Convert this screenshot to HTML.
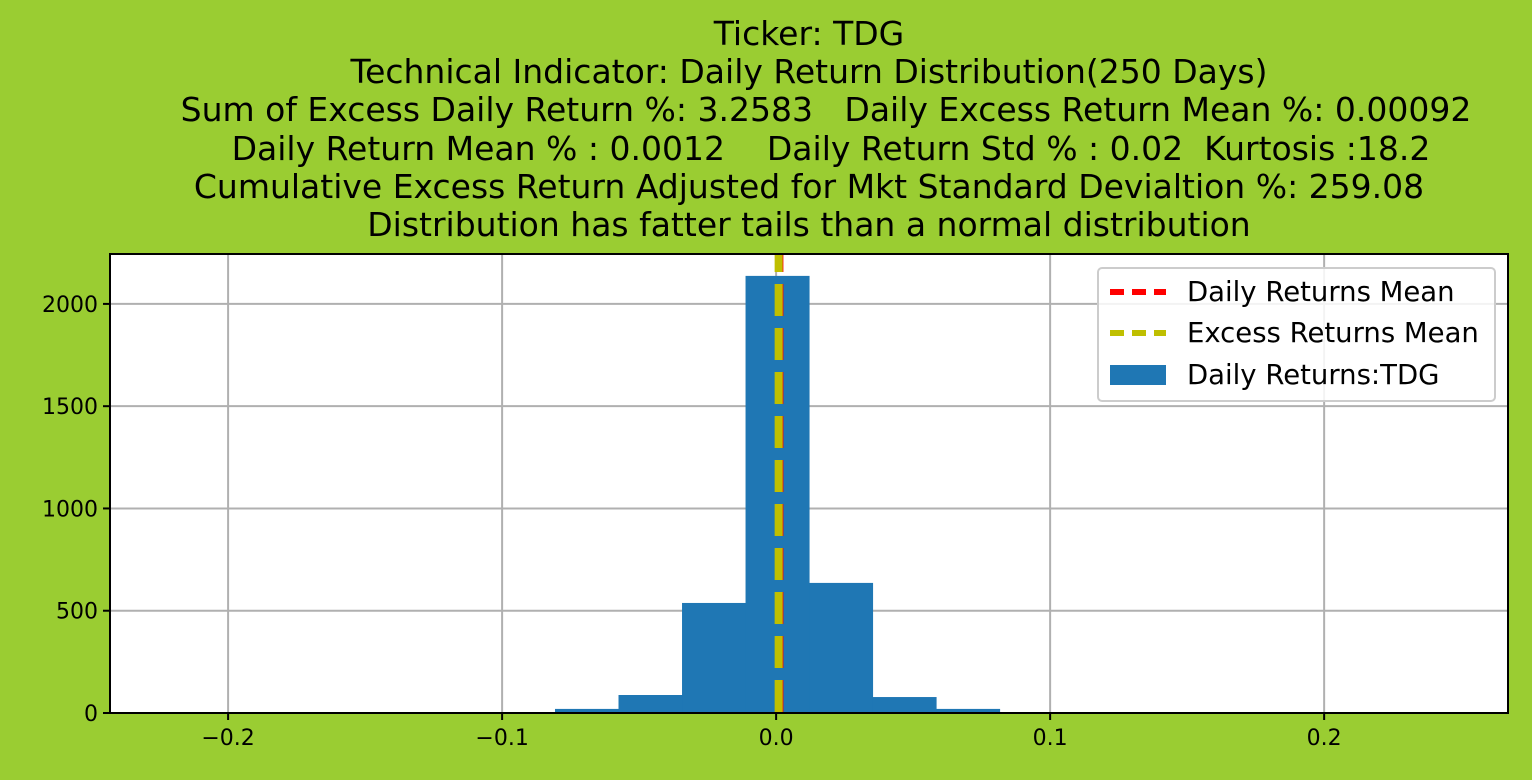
<!DOCTYPE html>
<html><head><meta charset="utf-8"><style>
body{margin:0;background:#9acd32;}
svg{display:block;font-family:"DejaVu Sans","Liberation Sans",sans-serif;}
text{white-space:pre;}
</style></head><body>
<svg width="1532" height="780" viewBox="0 0 1532 780" xml:space="preserve">
<rect width="1532" height="780" fill="#9acd32"/>
<g font-size="33" text-anchor="middle" fill="#000">
<text x="809" y="45">Ticker: TDG</text>
<text x="809" y="83">Technical Indicator: Daily Return Distribution(250 Days)</text>
<text x="826" y="121">Sum of Excess Daily Return %: 3.2583   Daily Excess Return Mean %: 0.00092</text>
<text x="831" y="160">Daily Return Mean % : 0.0012    Daily Return Std % : 0.02  Kurtosis :18.2</text>
<text x="809" y="198">Cumulative Excess Return Adjusted for Mkt Standard Devialtion %: 259.08</text>
<text x="809" y="236">Distribution has fatter tails than a normal distribution</text>
</g>
<rect x="110" y="254" width="1398" height="459" fill="#fff"/>
<g id="grid"></g>
<g id="bars"></g>
<g id="lines"></g>
<rect x="110" y="254" width="1398" height="459" fill="none" stroke="#000" stroke-width="2"/>
<g id="ticks" font-size="22" fill="#000"></g>
<g>
<rect x="1098" y="268" width="397" height="133" rx="4" fill="#fff" fill-opacity="0.85" stroke="#ccc" stroke-width="2"/>
<line x1="1110" y1="292" x2="1166" y2="292" stroke="#ff0000" stroke-width="6" stroke-dasharray="14,8"/>
<text x="1187" y="301" font-size="27.5">Daily Returns Mean</text>
<line x1="1110" y1="333" x2="1166" y2="333" stroke="#bfbf00" stroke-width="6" stroke-dasharray="14,8"/>
<text x="1187" y="342" font-size="27.5">Excess Returns Mean</text>
<rect x="1110" y="365" width="56" height="20" fill="#1f77b4"/>
<text x="1187" y="384" font-size="27.5">Daily Returns:TDG</text>
</g>
</svg>
<script>
const binStart = -0.0807;
const binWidth = 0.02318;
const counts = [20, 88, 538, 2137, 636, 78, 20];
const xTicks = [-0.2, -0.1, 0.0, 0.1, 0.2];
const xTickLabels = ["\u22120.2", "\u22120.1", "0.0", "0.1", "0.2"];
const yTicks = [0, 500, 1000, 1500, 2000];
const dailyMean = 0.0012;
const excessMean = 0.00092;

const NS = "http://www.w3.org/2000/svg";
const X0 = 110, X1 = 1508, Y0 = 713, Y1 = 254;
const xMin = -0.2431, xMax = 0.2671, yMax = 2244;
const sx = v => X0 + (v - xMin) / (xMax - xMin) * (X1 - X0);
const sy = v => Y0 - v / yMax * (Y0 - Y1);
function mk(tag, attrs, parent) { const e = document.createElementNS(NS, tag); for (const k in attrs) e.setAttribute(k, attrs[k]); document.getElementById(parent).appendChild(e); return e; }

xTicks.forEach((t, i) => {
  const g = mk("line", {x1: sx(t), x2: sx(t), y1: Y1, y2: Y0, stroke: "#b0b0b0", "stroke-width": 2}, "grid");
  
  
  const tk = mk("line", {x1: sx(t), x2: sx(t), y1: Y0, y2: Y0 + 7, stroke: "#000", "stroke-width": 2}, "ticks");
  
  
  const tx = mk("text", {x: sx(t), y: 745, "text-anchor": "middle"}, "ticks");
  tx.textContent = xTickLabels[i];
  
  
});
yTicks.forEach(t => {
  const g = mk("line", {x1: X0, x2: X1, y1: sy(t), y2: sy(t), stroke: "#b0b0b0", "stroke-width": 2}, "grid");
  
  
  const tk = mk("line", {x1: X0 - 7, x2: X0, y1: sy(t), y2: sy(t), stroke: "#000", "stroke-width": 2}, "ticks");
  
  
  const tx = mk("text", {x: X0 - 12, y: sy(t) + 8, "text-anchor": "end"}, "ticks");
  tx.textContent = String(t);
  
  
});
counts.forEach((c, i) => {
  const a = sx(binStart + i * binWidth), b = sx(binStart + (i + 1) * binWidth);
  const r = mk("rect", {x: a, y: sy(c), width: b - a + 0.5, height: Y0 - sy(c), fill: "#1f77b4"}, "bars");
  
  
});
const l1 = mk("line", {x1: sx(dailyMean), x2: sx(dailyMean), y1: Y1, y2: Y0, stroke: "#ff0000", "stroke-width": 8, "stroke-dasharray": "32,12", "stroke-dashoffset": "14"}, "lines");


const l2 = mk("line", {x1: sx(excessMean), x2: sx(excessMean), y1: Y1, y2: Y0, stroke: "#bfbf00", "stroke-width": 8, "stroke-dasharray": "32,12", "stroke-dashoffset": "14"}, "lines");


</script>
</body></html>
